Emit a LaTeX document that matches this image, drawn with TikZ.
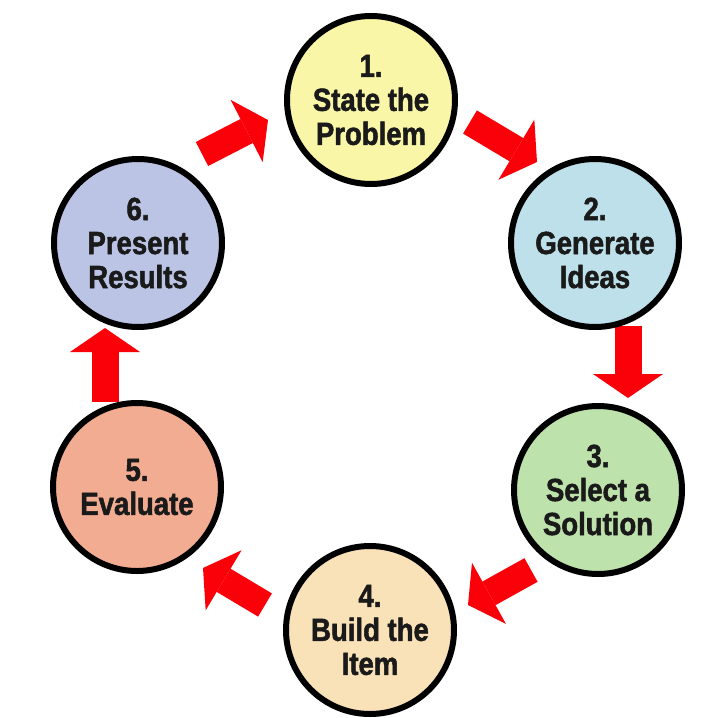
\documentclass[tikz,border=0pt]{standalone}
\usepackage{fontspec}
\newfontfamily\labfont[FakeStretch=0.86, BoldFeatures={FakeBold=1.6}]{Liberation Sans}
\usetikzlibrary{arrows.meta}
\definecolor{arrowred}{RGB}{250,0,8}
\definecolor{cyellow}{RGB}{249,246,168}
\definecolor{cblue}{RGB}{190,224,234}
\definecolor{cgreen}{RGB}{190,226,172}
\definecolor{cpeach}{RGB}{250,226,184}
\definecolor{csalmon}{RGB}{242,172,146}
\definecolor{clavender}{RGB}{188,196,230}
\definecolor{ink}{RGB}{26,26,26}
\begin{document}
\begin{tikzpicture}[x=1pt,y=-1pt,
  stage/.style={circle, draw=black, line width=6pt, minimum size=168pt, inner sep=0pt,
    align=center, text=ink, font=\labfont\bfseries\fontsize{32}{34}\selectfont},
  flow/.style={draw=arrowred, line width=27pt,
    -{Triangle[length=24pt,width=70pt,line width=0pt]}}]
\useasboundingbox (0,0) rectangle (716,718);
\fill[white] (0,0) rectangle (716,718);
% arrow end points
\coordinate (t12) at (470,122); \coordinate (h12) at (537,162);
\coordinate (t23) at (628,326); \coordinate (h23) at (628,398);
\coordinate (t34) at (531,570); \coordinate (h34) at (468,605);
\coordinate (t45) at (265,605); \coordinate (h45) at (203,568);
\coordinate (t56) at (105,402); \coordinate (h56) at (105,328);
\coordinate (t61) at (202,154); \coordinate (h61) at (268,120);
\draw[flow] (t12) -- (h12);
\draw[flow] (t23) -- (h23);
\draw[flow] (t34) -- (h34);
\draw[flow] (t45) -- (h45);
\draw[flow] (t56) -- (h56);
\draw[flow] (t61) -- (h61);
% stages
\node[stage, fill=cyellow]   (c1) at (371,100) {1.\\State the\\Problem};
\node[stage, fill=cblue]     (c2) at (595,243) {2.\\Generate\\Ideas};
\node[stage, fill=cgreen]    (c3) at (598,490) {3.\\Select a\\Solution};
\node[stage, fill=cpeach]    (c4) at (370,630) {4.\\Build the\\Item};
\node[stage, fill=csalmon]   (c5) at (137,487) {5.\\Evaluate};
\node[stage, fill=clavender] (c6) at (138,243) {6.\\Present\\Results};
\end{tikzpicture}
\end{document}
